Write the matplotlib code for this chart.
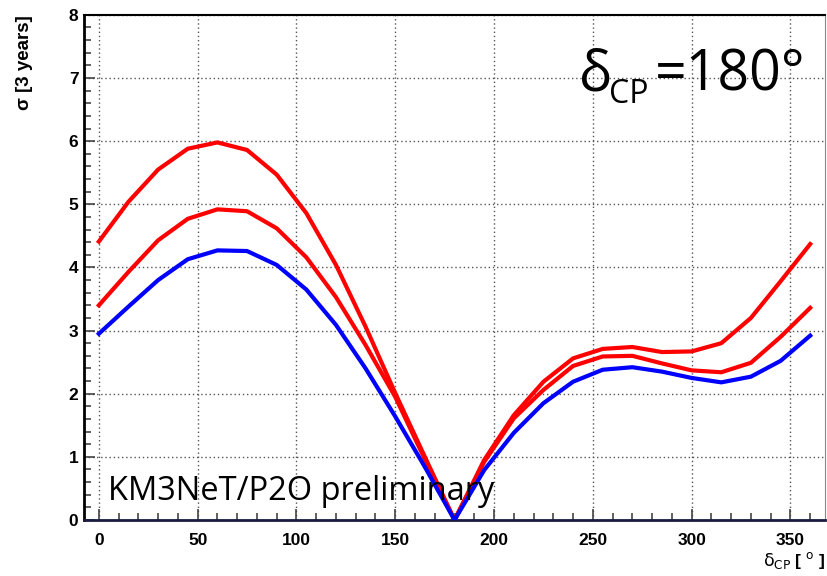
import numpy as np
import matplotlib
matplotlib.use("Agg")
import matplotlib.pyplot as plt
from matplotlib.ticker import MultipleLocator

# delta_CP scan points (degrees)
delta_cp = [0, 15, 30, 45, 60, 75, 90, 105, 120, 135, 150, 165, 180,
            195, 210, 225, 240, 255, 270, 285, 300, 315, 330, 345, 360]

# sensitivity curves, sigma after 3 years
sigma_top = [4.41, 5.04, 5.55, 5.88, 5.98, 5.86, 5.47, 4.86, 4.04, 3.06, 2.01, 1.00, 0.0,
             0.95, 1.66, 2.19, 2.56, 2.71, 2.74, 2.66, 2.67, 2.80, 3.20, 3.78, 4.37]
sigma_mid = [3.40, 3.93, 4.43, 4.77, 4.92, 4.89, 4.62, 4.16, 3.53, 2.77, 1.95, 0.96, 0.0,
             0.92, 1.61, 2.06, 2.44, 2.59, 2.60, 2.48, 2.37, 2.34, 2.49, 2.90, 3.36]
sigma_low = [2.95, 3.38, 3.80, 4.13, 4.27, 4.26, 4.04, 3.65, 3.09, 2.40, 1.64, 0.84, 0.0,
             0.79, 1.38, 1.85, 2.19, 2.38, 2.42, 2.35, 2.25, 2.18, 2.27, 2.52, 2.92]

fig = plt.figure(figsize=(8.27, 5.76), dpi=100)
ax = fig.add_axes([0.1016, 0.0972, 0.896, 0.877])

ax.plot(delta_cp, sigma_top, color='#ff0000', lw=3, zorder=3)
ax.plot(delta_cp, sigma_mid, color='#ff0000', lw=3, zorder=3)
ax.plot(delta_cp, sigma_low, color='#0000ff', lw=3, zorder=4)

ax.set_xlim(-7.5, 367.5)
ax.set_ylim(0, 8)

ax.xaxis.set_major_locator(MultipleLocator(50))
ax.xaxis.set_minor_locator(MultipleLocator(10))
ax.yaxis.set_major_locator(MultipleLocator(1))
ax.yaxis.set_minor_locator(MultipleLocator(0.2))

ax.grid(True, which='major', ls=(0, (1, 2)), color='#555555', lw=1.0)

ax.tick_params(which='both', direction='in', top=False, right=False, color='#444444')
ax.tick_params(which='major', length=8, width=1.2)
ax.tick_params(which='minor', length=5, width=1.2)

for lab in ax.get_xticklabels() + ax.get_yticklabels():
    lab.set_family('Liberation Sans')
    lab.set_fontweight('bold')
    lab.set_fontsize(12.5)
ax.tick_params(axis='x', pad=9)
ax.tick_params(axis='y', pad=4)

for s in ['left', 'bottom']:
    ax.spines[s].set_linewidth(2)
ax.spines['left'].set_color('black')
ax.spines['bottom'].set_color('#1a1a40')
ax.spines['top'].set_linewidth(1.5)
ax.spines['right'].set_color('#888888')

ax.set_ylabel('σ [3 years]', loc='top', fontsize=13.5, fontweight='bold',
              family='Liberation Sans', labelpad=26)
ax.set_xlabel(r'$\mathrm{\delta_{CP}}$ [ $^{\mathrm{o}}$ ]', loc='right', fontsize=12.5,
              fontweight='bold', family='Liberation Sans', labelpad=2)

ax.text(0.668, 0.851, 'δ', transform=ax.transAxes, fontsize=40,
        family='Open Sans', ha='left', va='baseline')
ax.text(0.708, 0.826, 'CP', transform=ax.transAxes, fontsize=23,
        family='Open Sans', ha='left', va='baseline')
ax.text(0.770, 0.851, '=180°', transform=ax.transAxes, fontsize=40,
        family='Open Sans', ha='left', va='baseline')

ax.text(0.032, 0.04, 'KM3NeT/P2O preliminary', transform=ax.transAxes, fontsize=23.5,
        family='Open Sans', ha='left', va='baseline', zorder=5)

fig.savefig('out.png', dpi=100)
